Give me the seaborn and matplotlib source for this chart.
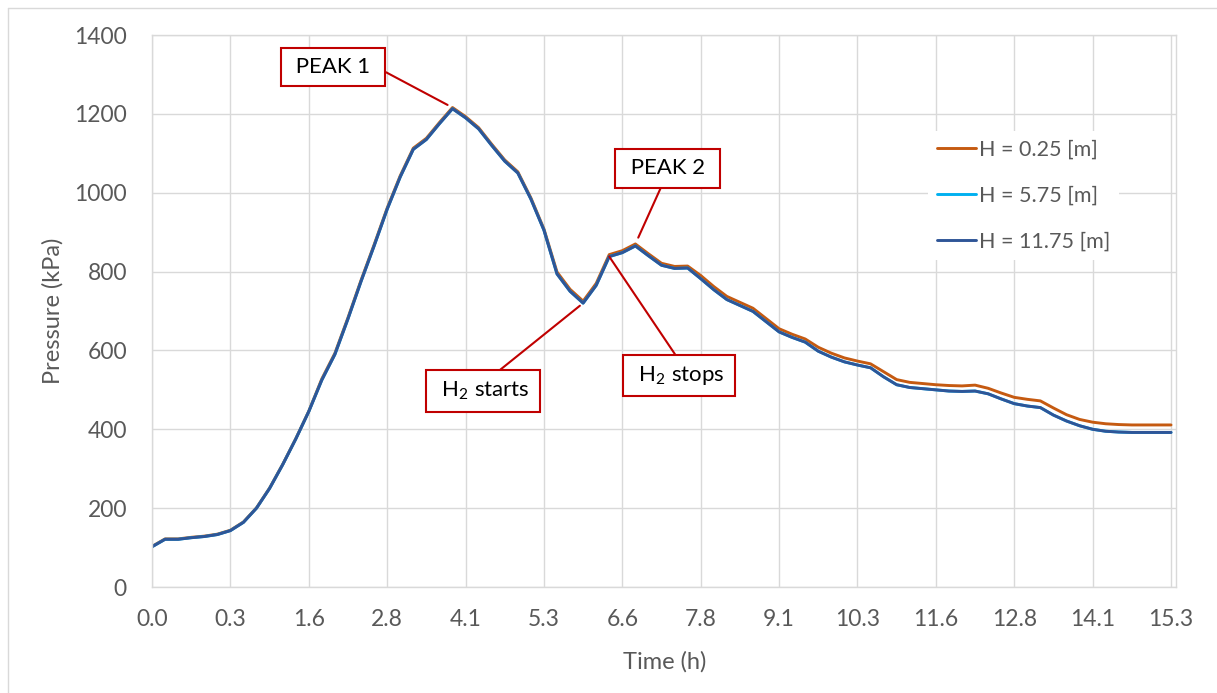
import numpy as np
import pandas as pd
import seaborn as sns
import matplotlib
matplotlib.use("Agg")
import matplotlib.pyplot as plt
from matplotlib.lines import Line2D

# ---------------- data ----------------
TIME_LABELS = ["0.0", "0.3", "1.6", "2.8", "4.1", "5.3", "6.6", "7.8",
               "9.1", "10.3", "11.6", "12.8", "14.1", "15.3"]
POINTS_PER_LABEL = 6

P_H025 = [103, 122, 122, 126, 129, 134, 144, 165, 201, 251, 311, 376, 446,
          528, 593, 683, 778, 868, 961, 1043, 1113, 1138, 1178, 1216, 1193,
          1165, 1123, 1083, 1053, 987, 908,
          799, 755, 725, 770, 843, 853, 870, 845, 821, 813, 814,
          790, 762, 737, 722, 707, 681, 655, 641, 629,
          608, 593, 581, 573, 566,
          546, 526, 519, 516, 513,
          511, 510, 512, 504, 492, 481,
          476, 472, 454, 437, 425, 418, 414, 412, 411, 411, 411, 411]

P_H575 = [102, 121, 121, 125, 128, 133, 143, 164, 200, 250, 310, 375, 445,
          525, 590, 680, 775, 865, 958, 1040, 1110, 1135, 1175, 1213, 1190,
          1162, 1120, 1080, 1050, 984, 905,
          794, 750, 720, 765, 838, 848, 865, 840, 816, 808, 809,
          782, 754, 729, 714, 699, 673, 647, 633, 621,
          598, 583, 571, 563, 556,
          533, 513, 506, 503, 500,
          497, 496, 497, 490, 477, 465,
          459, 455, 436, 421, 409, 400, 395, 393, 392, 392, 392, 392]

P_H1175 = [102, 121, 121, 125, 128, 133, 143, 164, 200, 250, 310, 375, 445,
           525, 590, 680, 775, 865, 958, 1040, 1110, 1135, 1175, 1213, 1190,
           1162, 1120, 1080, 1050, 984, 905,
           794, 750, 720, 765, 838, 848, 865, 840, 816, 808, 809,
           782, 754, 729, 714, 699, 673, 647, 633, 621,
           598, 583, 571, 563, 556,
           533, 513, 506, 503, 500,
           497, 496, 497, 490, 477, 465,
           459, 455, 436, 421, 409, 400, 395, 393, 392, 392, 392, 392]

SERIES_NAMES = ["H = 0.25 [m]", "H = 5.75 [m]", "H = 11.75 [m]"]
COLORS = ["#C55A11", "#00B0F0", "#2F5597"]
Y_TICKS = [0, 200, 400, 600, 800, 1000, 1200, 1400]

# ---------------- style ----------------
sns.set_theme(style="white")
plt.rcParams["font.family"] = ["Lato", "DejaVu Sans"]
plt.rcParams["mathtext.fontset"] = "custom"
plt.rcParams["mathtext.rm"] = "Lato"

GRID = "#D9D9D9"
TXT = "#595959"
RED = "#C00000"

W, H = 1217, 693
fig = plt.figure(figsize=(W / 100, H / 100), dpi=100)
fig.patch.set_facecolor("white")
ax = fig.add_axes([152 / W, 1 - 587 / H, (1176 - 152) / W, (587 - 35) / H])

idx = np.arange(len(P_H1175))
for vals, name, col in zip([P_H025, P_H575, P_H1175], SERIES_NAMES, COLORS):
    sns.lineplot(x=idx, y=vals, ax=ax, color=col, linewidth=2.1, label=name,
                 solid_joinstyle="round", solid_capstyle="round")

ax.set_xlim(0, 78.38)
ax.set_ylim(0, 1400)
ax.set_xticks(np.arange(0, len(TIME_LABELS) * POINTS_PER_LABEL, POINTS_PER_LABEL))
ax.set_xticklabels(TIME_LABELS)
ax.set_yticks(Y_TICKS)
ax.set_yticklabels([str(v) for v in Y_TICKS])

ax.set_axisbelow(True)
ax.grid(True, color=GRID, linewidth=1.0)
for s in ax.spines.values():
    s.set_color(GRID)
    s.set_linewidth(1.0)
ax.tick_params(axis="both", which="major", direction="out", length=6, width=1.0,
               color=GRID, labelcolor=TXT, labelsize=16.5)
ax.tick_params(axis="x", pad=10)
ax.tick_params(axis="y", pad=12)

ax.set_xlabel("Time (h)", fontsize=17, color=TXT)
ax.set_ylabel("Pressure (kPa)", fontsize=17, color=TXT)
ax.xaxis.set_label_coords(0.501, -0.116)
ax.yaxis.set_label_coords(-0.086, 0.5)

leg = ax.legend(loc="upper left", bbox_to_anchor=(0.758, 0.826), frameon=True,
                framealpha=1, facecolor="white", edgecolor="none", fancybox=False,
                fontsize=15.5, handlelength=1.8, handletextpad=0.15,
                labelspacing=1.2, borderpad=0.4, borderaxespad=0)
for t in leg.get_texts():
    t.set_color(TXT)
for l in leg.get_lines():
    l.set_linewidth(2.1)


def callout(text, target, text_pos, relpos, shrink):
    ax.annotate(text, xy=target, xycoords="data", xytext=text_pos,
                textcoords="data", ha="center", va="center", fontsize=16,
                color="black", zorder=6,
                bbox=dict(boxstyle="square,pad=0.42", fc="white", ec=RED, lw=1.5),
                arrowprops=dict(arrowstyle="-", color=RED, lw=1.5,
                                relpos=relpos, shrinkA=0, shrinkB=shrink))


callout(" PEAK 1 ", (23, P_H025[23]), (13.86, 1319), (1.0, 0.5), 4)
callout(" PEAK 2 ", (37, P_H025[37]), (39.47, 1062), (0.47, 0.0), 5)
callout(r" H$_\mathregular{2}$ starts ", (33, P_H1175[33]), (25.34, 497), (0.55, 1.0), 3)
callout(r" H$_\mathregular{2}$ stops ", (35, P_H1175[35]), (40.33, 536), (0.53, 1.0), 0)

# outer chart border (left and top visible)
fig.add_artist(Line2D([8 / W, 8 / W], [0, 1 - 8 / H], transform=fig.transFigure,
                      color=GRID, lw=1.0))
fig.add_artist(Line2D([8 / W, 1], [1 - 8 / H, 1 - 8 / H], transform=fig.transFigure,
                      color=GRID, lw=1.0))

fig.savefig("out.png", dpi=100, facecolor="white")
